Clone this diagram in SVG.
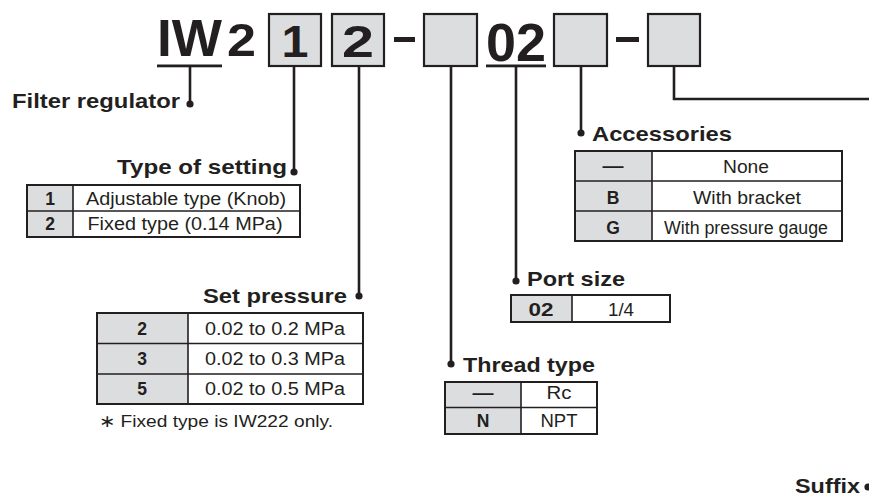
<svg xmlns="http://www.w3.org/2000/svg" width="869" height="498" viewBox="0 0 869 498">
<style>
text{font-family:"Liberation Sans",Arial,sans-serif;fill:#231f20}
.hd{font-weight:bold}
.lb{font-weight:bold;font-size:21px}
.c{font-size:17.5px;text-anchor:middle}
.cb{font-size:17.5px;font-weight:bold;text-anchor:middle}
.box{fill:#dcdddf;stroke:#231f20;stroke-width:2.2}
.ln{fill:none;stroke:#231f20;stroke-width:2.6}
.tb{fill:none;stroke:#231f20;stroke-width:2}
.g{fill:#dcdddf}
.dv{stroke:#231f20;stroke-width:1.6}
.dot{fill:#231f20}
</style>
<g id="code">
<text class="hd" x="157" y="56" font-size="51" textLength="65" lengthAdjust="spacingAndGlyphs">IW</text>
<rect x="157" y="64.5" width="65" height="2.8" fill="#231f20"/>
<text class="hd" x="227" y="56" font-size="47" textLength="29" lengthAdjust="spacingAndGlyphs">2</text>
<rect class="box" x="269" y="14" width="52" height="52"/>
<text class="hd" x="295" y="57" font-size="44" text-anchor="middle" textLength="27" lengthAdjust="spacingAndGlyphs">1</text>
<rect class="box" x="332" y="14" width="52" height="52"/>
<text class="hd" x="358" y="57" font-size="44" text-anchor="middle" textLength="32" lengthAdjust="spacingAndGlyphs">2</text>
<rect x="394" y="37" width="21" height="5" fill="#231f20"/>
<rect class="box" x="424" y="14" width="53" height="52"/>
<text class="hd" x="516" y="61" font-size="54" text-anchor="middle" textLength="60" lengthAdjust="spacingAndGlyphs">02</text>
<rect x="486" y="64.5" width="60" height="2.8" fill="#231f20"/>
<rect class="box" x="554" y="14" width="53" height="52"/>
<rect x="616" y="37" width="23" height="5" fill="#231f20"/>
<rect class="box" x="648" y="14" width="52" height="52"/>
</g>
<g id="connectors">
<path class="ln" d="M190 67V104"/>
<path class="ln" d="M294 67V172"/>
<path class="ln" d="M359 67V296"/>
<path class="ln" d="M451 67V364"/>
<path class="ln" d="M516 67V281"/>
<path class="ln" d="M581 67V133"/>
<path class="ln" d="M674 67V99H869"/>
<circle class="dot" cx="190" cy="104" r="3.6"/>
<circle class="dot" cx="294" cy="172" r="3.6"/>
<circle class="dot" cx="359" cy="296" r="3.6"/>
<circle class="dot" cx="451" cy="364" r="3.6"/>
<circle class="dot" cx="516" cy="281" r="3.6"/>
<circle class="dot" cx="581" cy="133" r="3.6"/>
<circle class="dot" cx="868" cy="487" r="3.6"/>
</g>
<g id="filter-regulator">
<text class="lb" x="12" y="108" textLength="168" lengthAdjust="spacingAndGlyphs">Filter regulator</text>
</g>
<g id="type-of-setting">
<text class="lb" x="117" y="174" textLength="170" lengthAdjust="spacingAndGlyphs">Type of setting</text>
<rect class="g" x="27" y="185" width="46" height="52"/>
<path class="dv" d="M27 211H300M73 185V237"/>
<rect class="tb" x="27" y="185" width="273" height="52"/>
<text class="cb" x="50" y="205">1</text>
<text class="c" x="186" y="205" textLength="200" lengthAdjust="spacingAndGlyphs">Adjustable type (Knob)</text>
<text class="cb" x="50" y="230">2</text>
<text class="c" x="185" y="230" textLength="195" lengthAdjust="spacingAndGlyphs">Fixed type (0.14 MPa)</text>
</g>
<g id="set-pressure">
<text class="lb" x="203" y="303" textLength="144" lengthAdjust="spacingAndGlyphs">Set pressure</text>
<rect class="g" x="97" y="313" width="91" height="91"/>
<path class="dv" d="M97 343.5H363M97 374H363M188 313V404"/>
<rect class="tb" x="97" y="313" width="266" height="91"/>
<text class="cb" x="142" y="335">2</text>
<text class="c" x="275" y="335" textLength="140" lengthAdjust="spacingAndGlyphs">0.02 to 0.2 MPa</text>
<text class="cb" x="142" y="365">3</text>
<text class="c" x="275" y="365" textLength="140" lengthAdjust="spacingAndGlyphs">0.02 to 0.3 MPa</text>
<text class="cb" x="142" y="395">5</text>
<text class="c" x="275" y="395" textLength="140" lengthAdjust="spacingAndGlyphs">0.02 to 0.5 MPa</text>
<text x="99" y="427" font-size="16.5" textLength="234" lengthAdjust="spacingAndGlyphs">∗ Fixed type is IW222 only.</text>
</g>
<g id="thread-type">
<text class="lb" x="463" y="372" textLength="132" lengthAdjust="spacingAndGlyphs">Thread type</text>
<rect class="g" x="445" y="382" width="76" height="52"/>
<path class="dv" d="M445 407.5H597M521 382V434"/>
<rect class="tb" x="445" y="382" width="152" height="52"/>
<text class="cb" x="483" y="399" textLength="21" lengthAdjust="spacingAndGlyphs">—</text>
<text class="c" x="559" y="399" textLength="25" lengthAdjust="spacingAndGlyphs">Rc</text>
<text class="cb" x="483" y="427">N</text>
<text class="c" x="559" y="427" textLength="37" lengthAdjust="spacingAndGlyphs">NPT</text>
</g>
<g id="port-size">
<text class="lb" x="527" y="286" textLength="98" lengthAdjust="spacingAndGlyphs">Port size</text>
<rect class="g" x="511" y="295" width="61" height="27"/>
<path class="dv" d="M572 295V322"/>
<rect class="tb" x="511" y="295" width="159" height="27"/>
<text class="cb" x="541" y="316" textLength="25" lengthAdjust="spacingAndGlyphs">02</text>
<text class="c" x="621" y="316" textLength="26" lengthAdjust="spacingAndGlyphs">1/4</text>
</g>
<g id="accessories">
<text class="lb" x="592" y="141" textLength="140" lengthAdjust="spacingAndGlyphs">Accessories</text>
<rect class="g" x="575" y="151" width="77" height="90"/>
<path class="dv" d="M575 181H842M575 211H842M652 151V241"/>
<rect class="tb" x="575" y="151" width="267" height="90"/>
<text class="cb" x="613" y="172" textLength="21" lengthAdjust="spacingAndGlyphs">—</text>
<text class="c" x="746" y="173" textLength="46" lengthAdjust="spacingAndGlyphs">None</text>
<text class="cb" x="613" y="204">B</text>
<text class="c" x="747" y="204" textLength="108" lengthAdjust="spacingAndGlyphs">With bracket</text>
<text class="cb" x="613" y="234">G</text>
<text class="c" x="746" y="234" textLength="164" lengthAdjust="spacingAndGlyphs">With pressure gauge</text>
</g>
<g id="suffix">
<text class="lb" x="795" y="493" textLength="65" lengthAdjust="spacingAndGlyphs">Suffix</text>
</g>
</svg>
